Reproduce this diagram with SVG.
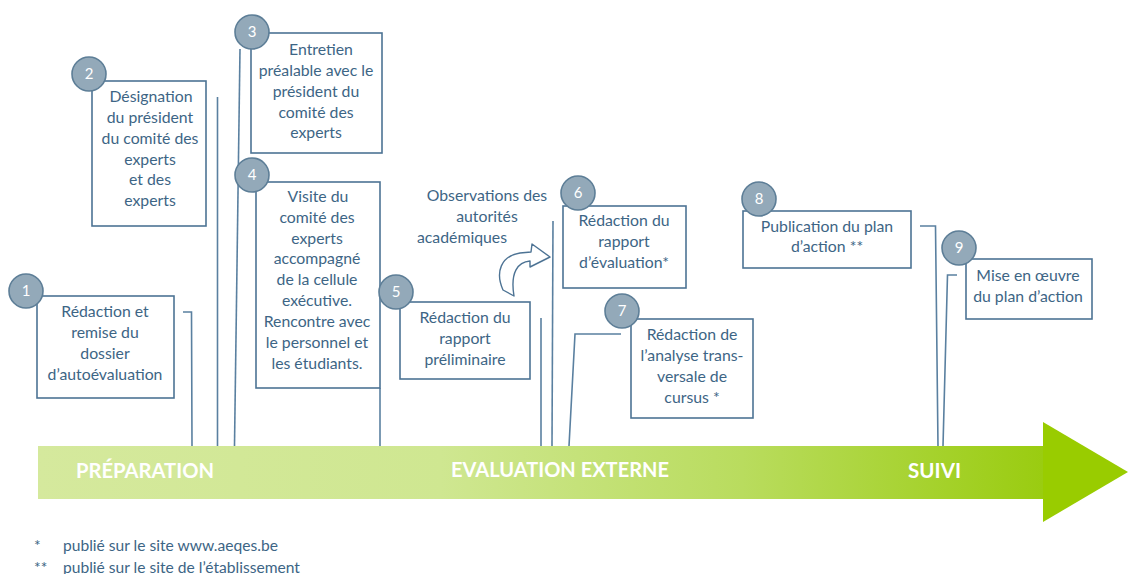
<svg xmlns="http://www.w3.org/2000/svg" width="1128" height="574" viewBox="0 0 1128 574">
<defs>
<linearGradient id="band" x1="38" y1="0" x2="1044" y2="0" gradientUnits="userSpaceOnUse">
<stop offset="0" stop-color="#d5e99d"/>
<stop offset="0.4" stop-color="#cfe791"/>
<stop offset="0.7" stop-color="#b9dc5e"/>
<stop offset="1" stop-color="#9acc10"/>
</linearGradient>
<style>
.box{fill:#ffffff;stroke:#4d7394;stroke-width:1.6}
.num{fill:#93a9b9;stroke:#5d7e97;stroke-width:1.6}
.numt{font-family:Lato,"Liberation Sans",sans-serif;font-size:15px;fill:#ffffff;text-anchor:middle}
.t{font-family:Lato,"Liberation Sans",sans-serif;font-size:15.8px;fill:#3d6585;text-anchor:middle}
.lab{font-family:Lato,"Liberation Sans",sans-serif;font-size:20px;font-weight:bold;fill:#ffffff}
.fn{font-family:Lato,"Liberation Sans",sans-serif;font-size:15.6px;fill:#3d6585}
.con{fill:none;stroke:#5a80a0;stroke-width:1.6}
</style>
</defs>
<rect width="1128" height="574" fill="#ffffff"/>

<g id="timeline">
<rect x="38" y="446" width="1006" height="53" fill="url(#band)"/>
<polygon points="1043,422 1128,472 1043,522" fill="#99cc00"/>
<text class="lab" x="76" y="478" textLength="138" lengthAdjust="spacingAndGlyphs">PRÉPARATION</text>
<text class="lab" x="451" y="477" textLength="218" lengthAdjust="spacingAndGlyphs">EVALUATION EXTERNE</text>
<text class="lab" x="908" y="478" textLength="53" lengthAdjust="spacingAndGlyphs">SUIVI</text>
</g>

<g id="connectors">
<polyline class="con" points="183,312 191.5,312 192,446"/>
<line class="con" x1="217.5" y1="97" x2="217.5" y2="446"/>
<line class="con" x1="240" y1="49" x2="234.5" y2="446"/>
<line class="con" x1="380" y1="388" x2="380" y2="446"/>
<line class="con" x1="541" y1="318" x2="541" y2="446"/>
<line class="con" x1="553" y1="221" x2="552" y2="446"/>
<polyline class="con" points="621,334 575,334 569,446"/>
<polyline class="con" points="920,226 935.5,226 938,446"/>
<polyline class="con" points="957,275 947.5,275 943,446"/>
<path id="curved-arrow" d="M503,290 C495,272 501,256 520,253 L531,252 L532,244 L550,257 L530,267 L530,261 C518,262 510,272 514,296 Z" fill="#ffffff" stroke="#4d7394" stroke-width="1.4" stroke-linejoin="round"/>
</g>

<g id="node1">
<rect class="box" x="37" y="296" width="137" height="102"/>
<circle class="num" cx="26" cy="291" r="17"/>
<text class="numt" x="26" y="296">1</text>
<text class="t" x="105" y="317">Rédaction et</text>
<text class="t" x="105" y="338">remise du</text>
<text class="t" x="105" y="359">dossier</text>
<text class="t" x="105" y="380">d’autoévaluation</text>
</g>

<g id="node2">
<rect class="box" x="92" y="81" width="114" height="145"/>
<circle class="num" cx="89" cy="74" r="17"/>
<text class="numt" x="89" y="79">2</text>
<text class="t" x="151" y="102">Désignation</text>
<text class="t" x="150" y="123">du président</text>
<text class="t" x="150" y="144">du comité des</text>
<text class="t" x="150" y="165">experts</text>
<text class="t" x="150" y="185">et des</text>
<text class="t" x="150" y="206">experts</text>
</g>

<g id="node3">
<rect class="box" x="251" y="33" width="131" height="120"/>
<circle class="num" cx="252" cy="32" r="17"/>
<text class="numt" x="252" y="37">3</text>
<text class="t" x="321" y="55">Entretien</text>
<text class="t" x="316" y="76">préalable avec le</text>
<text class="t" x="316" y="97">président du</text>
<text class="t" x="316" y="118">comité des</text>
<text class="t" x="316" y="138">experts</text>
</g>

<g id="node4">
<rect class="box" x="256" y="182" width="124" height="206"/>
<circle class="num" cx="252" cy="175" r="17"/>
<text class="numt" x="252" y="180">4</text>
<text class="t" x="318" y="202">Visite du</text>
<text class="t" x="317" y="223">comité des</text>
<text class="t" x="317" y="244">experts</text>
<text class="t" x="317" y="264">accompagné</text>
<text class="t" x="317" y="285">de la cellule</text>
<text class="t" x="317" y="306">exécutive.</text>
<text class="t" x="317" y="327">Rencontre avec</text>
<text class="t" x="317" y="348">le personnel et</text>
<text class="t" x="317" y="369">les étudiants.</text>
</g>

<g id="node5">
<rect class="box" x="400" y="302" width="130" height="77"/>
<circle class="num" cx="396" cy="292" r="17"/>
<text class="numt" x="396" y="297">5</text>
<text class="t" x="465" y="323">Rédaction du</text>
<text class="t" x="465" y="344">rapport</text>
<text class="t" x="465" y="365">préliminaire</text>
</g>

<g id="observations">
<text class="t" x="487" y="201">Observations des</text>
<text class="t" x="487" y="222">autorités</text>
<text class="t" x="462" y="243">académiques</text>
</g>

<g id="node6">
<rect class="box" x="563" y="206" width="123" height="82"/>
<circle class="num" cx="578" cy="193" r="17"/>
<text class="numt" x="578" y="198">6</text>
<text class="t" x="624" y="226">Rédaction du</text>
<text class="t" x="624" y="247">rapport</text>
<text class="t" x="624" y="268">d’évaluation*</text>
</g>

<g id="node7">
<rect class="box" x="631" y="319" width="122" height="99"/>
<circle class="num" cx="622" cy="311" r="17"/>
<text class="numt" x="622" y="316">7</text>
<text class="t" x="692" y="340">Rédaction de</text>
<text class="t" x="692" y="361">l’analyse trans-</text>
<text class="t" x="692" y="382">versale de</text>
<text class="t" x="692" y="403">cursus *</text>
</g>

<g id="node8">
<rect class="box" x="743" y="211" width="168" height="57"/>
<circle class="num" cx="759" cy="199" r="17"/>
<text class="numt" x="759" y="204">8</text>
<text class="t" x="827" y="232">Publication du plan</text>
<text class="t" x="827" y="252">d’action **</text>
</g>

<g id="node9">
<rect class="box" x="966" y="259" width="126" height="60"/>
<circle class="num" cx="959" cy="248" r="17"/>
<text class="numt" x="959" y="253">9</text>
<text class="t" x="1028" y="281">Mise en œuvre</text>
<text class="t" x="1028" y="302">du plan d’action</text>
</g>

<g id="footnotes">
<text class="fn" x="34" y="551">*</text>
<text class="fn" x="63" y="551">publié sur le site www.aeqes.be</text>
<text class="fn" x="34" y="573">**</text>
<text class="fn" x="63" y="573">publié sur le site de l’établissement</text>
</g>
</svg>
